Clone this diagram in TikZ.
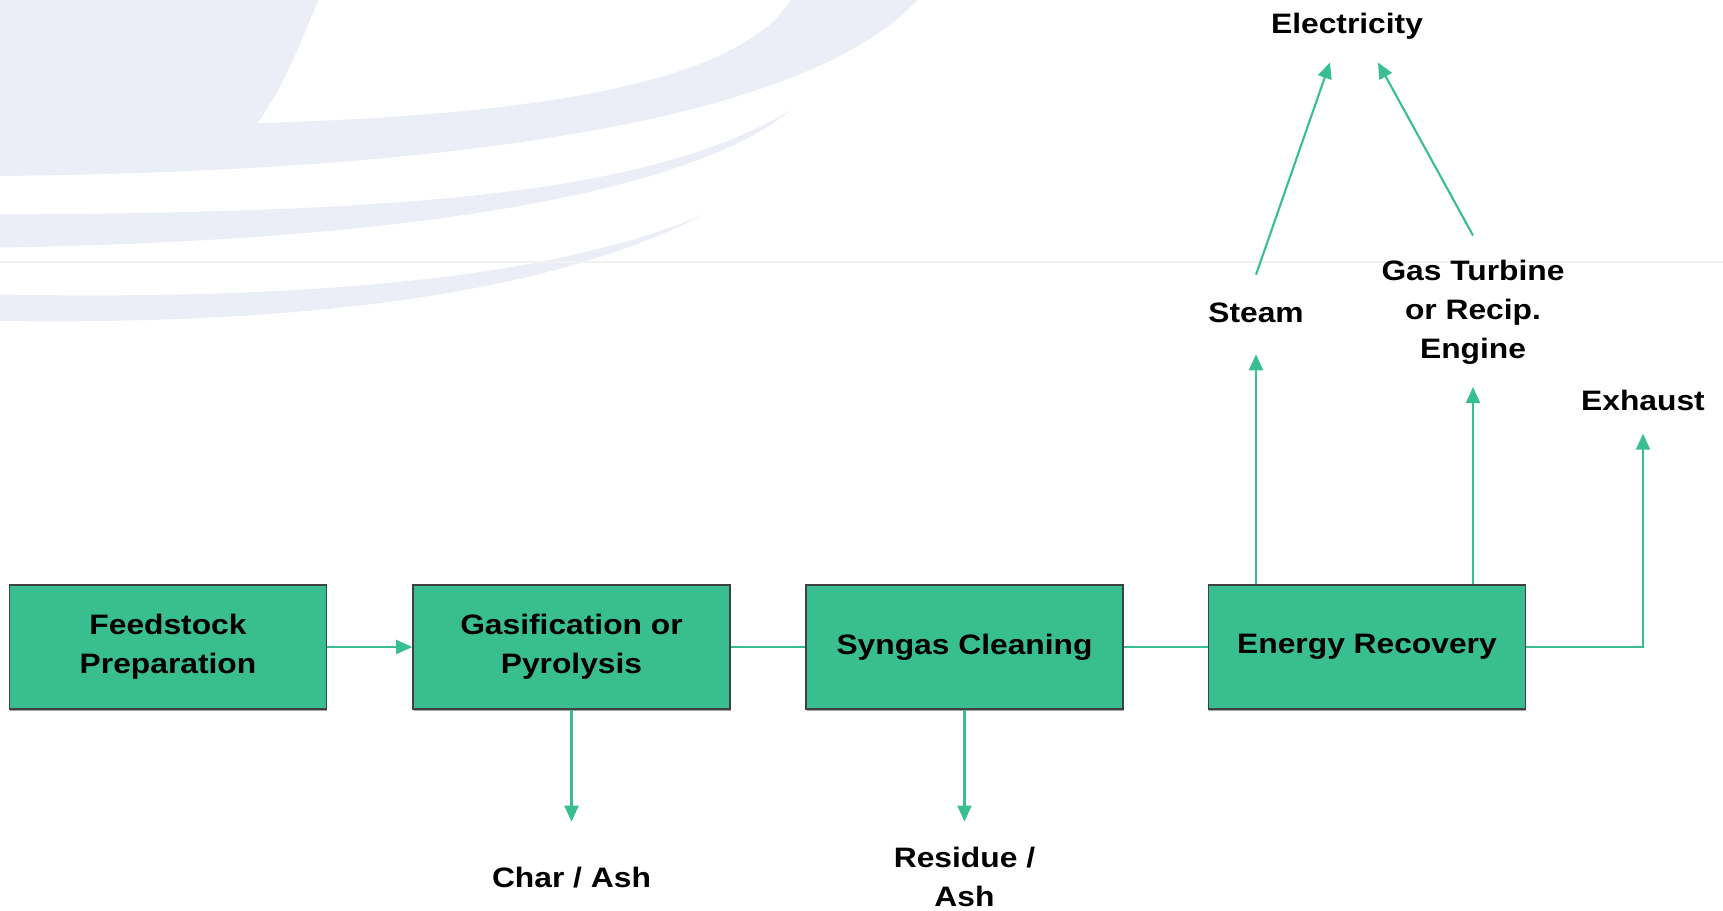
\documentclass[tikz,border=0pt]{standalone}
\usepackage{fontspec}
\setmainfont[FakeStretch=1.13]{Liberation Sans}
\usepackage{tikz}
\usetikzlibrary{arrows.meta,positioning,calc,shadows}
\definecolor{boxgreen}{RGB}{56,190,143}
\definecolor{swoosh}{RGB}{235,238,246}

\begin{document}
\begin{tikzpicture}[>={Triangle[length=0.32cm,width=0.28cm]},font=\fontsize{16}{22.2}\selectfont\bfseries,
  block/.style={draw=black!75,line width=0.9pt,fill=boxgreen,minimum width=6.34cm,minimum height=2.48cm,align=center,
    drop shadow={shadow xshift=0.01cm,shadow yshift=-0.03cm,opacity=0.7}},
  lbl/.style={inner sep=0pt,align=center},
  flow/.style={boxgreen,line width=1.2pt}]
\useasboundingbox (0,0) rectangle (34.46,18.2);
\fill[swoosh] (0,18.2) -- (6.37,18.2) .. controls (5.7,16.6) .. (5.16,15.74) .. controls (11,15.9) and (14.8,16.6) .. (15.82,18.2) -- (18.35,18.2) .. controls (16.5,16.2) and (11,14.8) .. (0,14.68) -- cycle;
\fill[swoosh] (0,13.91) .. controls (8,13.95) and (13,14.3) .. (15.82,16.0) .. controls (14,14.5) and (9,13.4) .. (0,13.25) -- cycle;
\fill[swoosh] (0,12.31) .. controls (6,12.2) and (11,12.6) .. (14.07,13.91) .. controls (11,12.3) and (6,11.7) .. (0,11.78) -- cycle;
\draw[black!5,line width=1pt] (0,12.96) -- (34.46,12.96);
\node[block] (feed) at (3.36,5.26) {Feedstock\\Preparation};
\node[block] (gas) at (11.43,5.26) {Gasification or\\Pyrolysis};
\node[block] (clean) at (19.29,5.26) {Syngas Cleaning};
\node[block] (rec) at (27.34,5.26) {Energy Recovery};
\node[lbl] (steam) at (25.12,11.94) {Steam};
\node[lbl] (turb) at (29.46,11.95) {Gas Turbine\\or Recip.\\Engine};
\node[lbl] (exh) at (32.86,10.2) {Exhaust};
\node[lbl] (elec) at (26.94,17.68) {Electricity};
\node[lbl] (char) at (11.43,0.64) {Char / Ash};
\node[lbl] (res) at (19.29,0.655) {Residue /\\Ash};
\draw[flow,->] (feed) -- (gas);
\draw[flow] (gas) -- (clean);
\draw[flow] (clean) -- (rec);
\draw[flow,->,shorten >=0.91cm] (gas) -- (char);
\draw[flow,->,shorten >=0.51cm] (clean) -- (res);
\draw[flow,->,shorten >=0.62cm] (rec.north -| steam) -- (steam.south);
\draw[flow,->,shorten >=0.44cm] (rec.north -| turb) -- (turb.south);
\draw[flow,->,shorten >=0.46cm] (rec.east) -| (exh.south);
\draw[flow,->] ([yshift=0.56cm]steam.north) -- ([xshift=-0.34cm,yshift=-0.46cm]elec.south);
\draw[flow,->] ([yshift=0.49cm]turb.north) -- ([xshift=0.62cm,yshift=-0.46cm]elec.south);
\end{tikzpicture}
\end{document}
